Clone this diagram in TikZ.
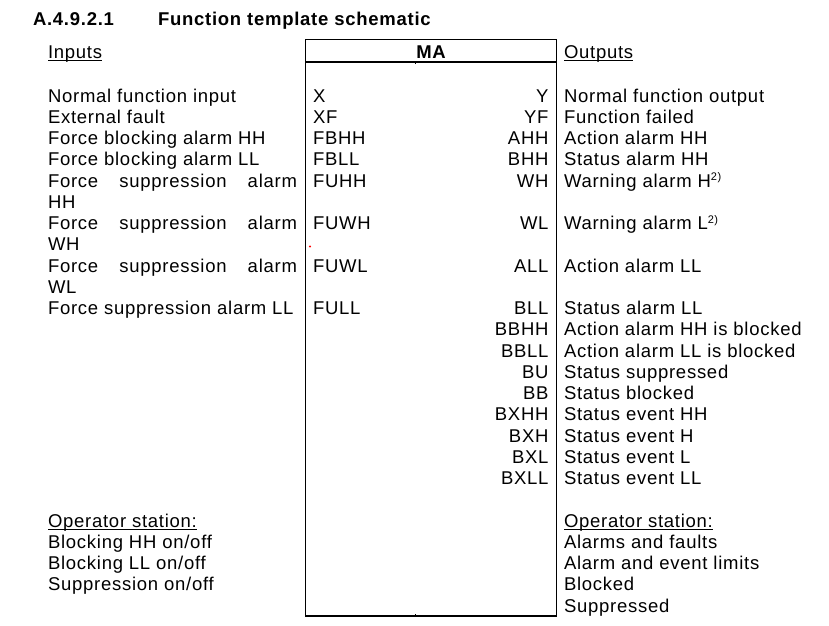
\documentclass[tikz,border=0pt]{standalone}
\usepackage{fontspec}
\setmainfont{Liberation Sans}[LetterSpace=4]
\begin{document}
\begin{tikzpicture}[x=1pt,y=-1pt,
  txt/.style={inner sep=0pt, outer sep=0pt, font=\fontsize{18.5}{21.25}\selectfont},
  lab/.style={txt, anchor=base west},
  rcode/.style={txt, anchor=base east},
  head/.style={inner sep=0pt, outer sep=0pt, font=\fontsize{18.5}{21.25}\selectfont\bfseries},
  frame/.style={line width=1.05pt},
  uline/.style={line width=1.05pt}]
\useasboundingbox (0,0) rectangle (829,625);

% heading
\node[head, anchor=base west] (secno) at (33,25) {A.4.9.2.1};
\node[head, anchor=base west] (title) at (158,25) {Function template schematic};

% function block
\draw[frame] (305.5,39.5) rectangle (556.5,616);
\draw[frame] (305.5,62) -- (556.5,62);
\draw[line width=0.8pt] (415.5,62) -- (415.5,63.8);
\draw[line width=0.8pt] (415.5,616) -- (415.5,614.2);
\node[head, anchor=base] (ma) at (431,58) {MA};
\fill[red] (310,246.5) circle (1.1);

% column headings
\node[lab] (inputs) at (48,58) {Inputs};
\node[lab] (outputs) at (564,58) {Outputs};
\draw[uline] ([yshift=-2.6pt]inputs.base west) -- ([yshift=-2.6pt]inputs.base east);
\draw[uline] ([yshift=-2.6pt]outputs.base west) -- ([yshift=-2.6pt]outputs.base east);

% input descriptions
\node[lab] (d0) at (48,102) {Normal function input};
\node[lab] (d1) at (48,123.25) {External fault};
\node[lab] (d2) at (48,144.5) {Force blocking alarm HH};
\node[lab] (d3) at (48,165.75) {Force blocking alarm LL};
\node[lab] (d4) at (48,187) {\makebox[249pt][s]{Force suppression alarm}};
\node[lab] (d5) at (48,208.25) {HH};
\node[lab] (d6) at (48,229.5) {\makebox[249pt][s]{Force suppression alarm}};
\node[lab] (d7) at (48,250.75) {WH};
\node[lab] (d8) at (48,272) {\makebox[249pt][s]{Force suppression alarm}};
\node[lab] (d9) at (48,293.25) {WL};
\node[lab] (d10) at (48,314.5) {Force suppression alarm LL};

% input codes
\node[lab] (i0) at (313,102) {X};
\node[lab] (i1) at (313,123.25) {XF};
\node[lab] (i2) at (313,144.5) {FBHH};
\node[lab] (i3) at (313,165.75) {FBLL};
\node[lab] (i4) at (313,187) {FUHH};
\node[lab] (i6) at (313,229.5) {FUWH};
\node[lab] (i8) at (313,272) {FUWL};
\node[lab] (i10) at (313,314.5) {FULL};

% output codes
\node[rcode] (o0) at (548.5,102) {Y};
\node[rcode] (o1) at (548.5,123.25) {YF};
\node[rcode] (o2) at (548.5,144.5) {AHH};
\node[rcode] (o3) at (548.5,165.75) {BHH};
\node[rcode] (o4) at (548.5,187) {WH};
\node[rcode] (o6) at (548.5,229.5) {WL};
\node[rcode] (o8) at (548.5,272) {ALL};
\node[rcode] (o10) at (548.5,314.5) {BLL};
\node[rcode] (o11) at (548.5,335.75) {BBHH};
\node[rcode] (o12) at (548.5,357) {BBLL};
\node[rcode] (o13) at (548.5,378.25) {BU};
\node[rcode] (o14) at (548.5,399.5) {BB};
\node[rcode] (o15) at (548.5,420.75) {BXHH};
\node[rcode] (o16) at (548.5,442) {BXH};
\node[rcode] (o17) at (548.5,463.25) {BXL};
\node[rcode] (o18) at (548.5,484.5) {BXLL};

% output descriptions
\node[lab] (e0) at (564,102) {Normal function output};
\node[lab] (e1) at (564,123.25) {Function failed};
\node[lab] (e2) at (564,144.5) {Action alarm HH};
\node[lab] (e3) at (564,165.75) {Status alarm HH};
\node[lab] (e4) at (564,187) {Warning alarm H\raisebox{6.5pt}{\fontsize{11}{11}\selectfont 2)}};
\node[lab] (e6) at (564,229.5) {Warning alarm L\raisebox{6.5pt}{\fontsize{11}{11}\selectfont 2)}};
\node[lab] (e8) at (564,272) {Action alarm LL};
\node[lab] (e10) at (564,314.5) {Status alarm LL};
\node[lab] (e11) at (564,335.75) {Action alarm HH is blocked};
\node[lab] (e12) at (564,357) {Action alarm LL is blocked};
\node[lab] (e13) at (564,378.25) {Status suppressed};
\node[lab] (e14) at (564,399.5) {Status blocked};
\node[lab] (e15) at (564,420.75) {Status event HH};
\node[lab] (e16) at (564,442) {Status event H};
\node[lab] (e17) at (564,463.25) {Status event L};
\node[lab] (e18) at (564,484.5) {Status event LL};

% operator station, inputs side
\node[lab] (opin) at (48,527) {Operator station:};
\draw[uline] ([yshift=-2.6pt]opin.base west) -- ([yshift=-2.6pt]opin.base east);
\node[lab] (p21) at (48,548.25) {Blocking HH on/off};
\node[lab] (p22) at (48,569.5) {Blocking LL on/off};
\node[lab] (p23) at (48,590.75) {Suppression on/off};

% operator station, outputs side
\node[lab] (opout) at (564,527) {Operator station:};
\draw[uline] ([yshift=-2.6pt]opout.base west) -- ([yshift=-2.6pt]opout.base east);
\node[lab] (q21) at (564,548.25) {Alarms and faults};
\node[lab] (q22) at (564,569.5) {Alarm and event limits};
\node[lab] (q23) at (564,590.75) {Blocked};
\node[lab] (q24) at (564,612) {Suppressed};
\end{tikzpicture}
\end{document}
